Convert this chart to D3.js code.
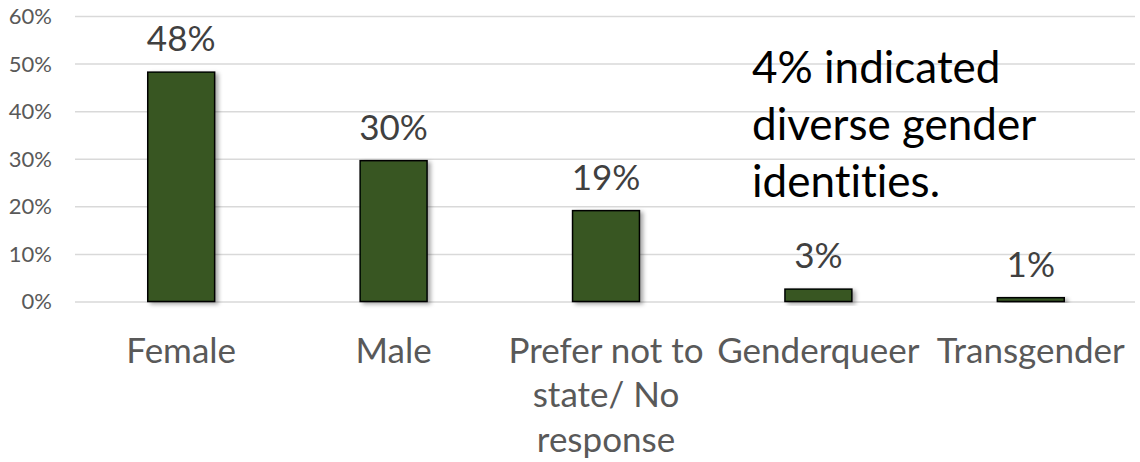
<!DOCTYPE html>
<html>
<head>
<meta charset="utf-8">
<script src="https://cdn.jsdelivr.net/npm/d3@7"></script>
<style>
  html, body { margin: 0; padding: 0; background: #fff; }
  svg { display: block; font-family: Lato, "Open Sans", sans-serif; font-variant-ligatures: none; }
</style>
</head>
<body>
<svg id="chart" width="1140" height="462"></svg>
<script>
// Gender identity of respondents (share of all responses)
const categories = ["Female", "Male", "Prefer not to state/ No response", "Genderqueer", "Transgender"];
const shares = [0.482, 0.296, 0.191, 0.026, 0.008];
const yTicks = [0, 0.1, 0.2, 0.3, 0.4, 0.5, 0.6];
const noteLines = ["4% indicated", "diverse gender", "identities."];

const svg = d3.select("#chart");
const FONT = "Lato, 'Open Sans', sans-serif";
const plot = { left: 75, right: 1137, top: 16, bottom: 301.5 };

const x = d3.scaleBand()
  .domain(categories)
  .range([plot.left, plot.right])
  .paddingInner(0.685)
  .paddingOuter(0.3425);

const y = d3.scaleLinear()
  .domain([0, 0.6])
  .range([plot.bottom, plot.top]);

const pct = d3.format(".0%");

// soft drop shadow under the columns
const defs = svg.append("defs");
const f = defs.append("filter").attr("id", "shadow")
  .attr("x", "-20%").attr("y", "-20%").attr("width", "150%").attr("height", "150%");
f.append("feDropShadow")
  .attr("dx", 3).attr("dy", 2).attr("stdDeviation", 2.2)
  .attr("flood-color", "#000").attr("flood-opacity", 0.35);

// horizontal gridlines + value labels
const yAxis = d3.axisLeft(y).tickValues(yTicks).tickFormat(pct)
  .tickSize(-(plot.right - plot.left - 2)).tickPadding(23);
const gy = svg.append("g")
  .attr("transform", `translate(${plot.left},0)`)
  .call(yAxis)
  .attr("font-family", FONT);
gy.select(".domain").remove();
gy.selectAll(".tick line").attr("stroke", "#d9d9d9").attr("stroke-width", 1.5);
gy.selectAll(".tick text")
  .attr("fill", "#595959")
  .attr("font-size", 22)
  .attr("dy", "0.34em");

// columns
svg.append("g").selectAll("rect")
  .data(categories)
  .join("rect")
  .attr("x", d => x(d))
  .attr("width", x.bandwidth())
  .attr("y", (d, i) => y(shares[i]))
  .attr("height", (d, i) => y(0) - y(shares[i]))
  .attr("fill", "#375623")
  .attr("stroke", "#000")
  .attr("stroke-width", 1.5)
  .attr("filter", "url(#shadow)");

// value labels above columns
svg.append("g").selectAll("text")
  .data(categories)
  .join("text")
  .attr("x", d => x(d) + x.bandwidth() / 2)
  .attr("y", (d, i) => y(shares[i]) - 21)
  .attr("text-anchor", "middle")
  .attr("fill", "#404040")
  .attr("font-size", 35)
  .text((d, i) => pct(shares[i]));

// category labels, wrapped to the band step
const xAxis = d3.axisBottom(x).tickSize(0).tickPadding(0);
const gx = svg.append("g")
  .attr("transform", `translate(0,${plot.bottom})`)
  .call(xAxis)
  .attr("font-family", FONT);
gx.select(".domain").remove();
gx.selectAll(".tick text")
  .attr("fill", "#595959")
  .attr("font-size", 35)
  .attr("y", 61)
  .attr("dy", 0)
  .each(function () { wrap(d3.select(this), x.step() - 6, 44.5); });

function wrap(text, width, lineH) {
  const words = text.text().split(/\s+/);
  const x0 = text.attr("x") || 0, y0 = text.attr("y");
  text.text(null);
  let line = [];
  let n = 0;
  let tspan = text.append("tspan").attr("x", x0).attr("y", y0);
  for (const w of words) {
    line.push(w);
    tspan.text(line.join(" "));
    if (tspan.node().getComputedTextLength() > width && line.length > 1) {
      line.pop();
      tspan.text(line.join(" "));
      line = [w];
      n++;
      tspan = text.append("tspan").attr("x", x0).attr("y", +y0 + n * lineH).text(w);
    }
  }
}

// side note
svg.append("text")
  .attr("x", 752)
  .attr("y", 83)
  .attr("fill", "#000")
  .attr("font-size", 44)
  .selectAll("tspan")
  .data(noteLines)
  .join("tspan")
  .attr("x", 752)
  .attr("dy", (d, i) => i === 0 ? 0 : 57)
  .text(d => d);
</script>
</body>
</html>
